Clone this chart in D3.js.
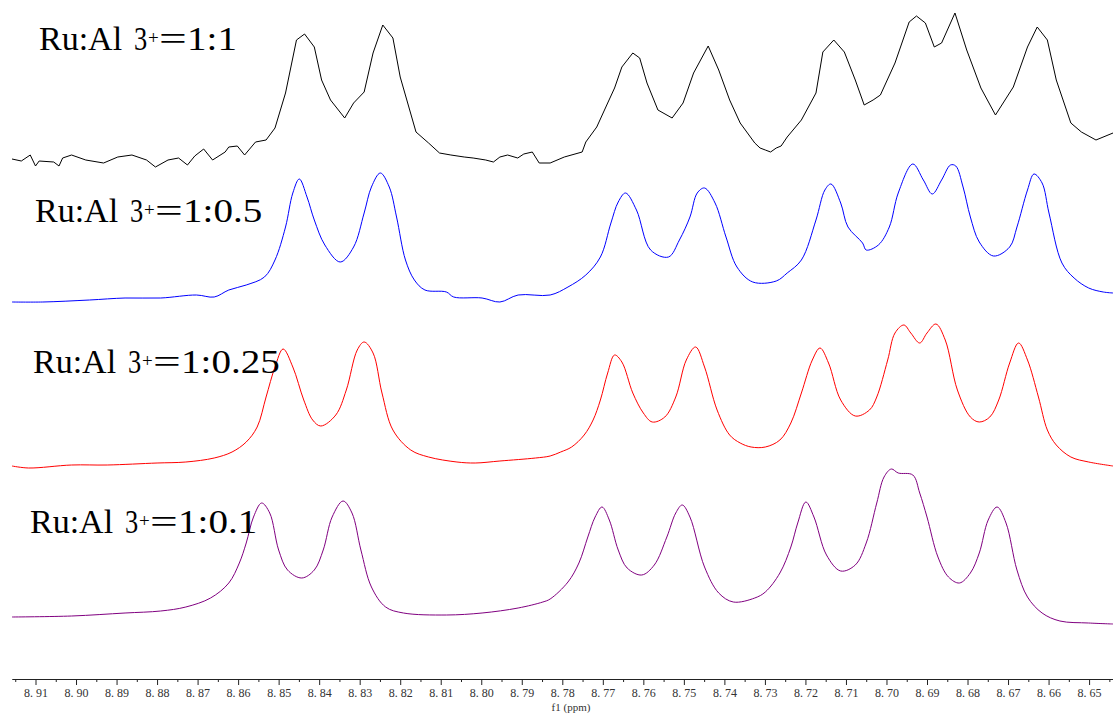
<!DOCTYPE html>
<html lang="en">
<head>
<meta charset="utf-8">
<script src="https://d3js.org/d3.v7.min.js"></script>
<style>
  body { margin: 0; background: #fff; }
  svg { display: block; background: #fff; }
  .axis text { font-family: 'Liberation Serif', serif; font-size: 12px; fill: #333; }
  .axis path, .axis line { stroke: #222; }
  .spec { fill: none; stroke-width: 1; }
  .lbl text { font-family: 'Liberation Serif', 'Times New Roman', serif; fill: #000; }
</style>
</head>
<body>
<svg width="1113" height="715"></svg>
<script>
// ppm range shown (reversed axis, NMR style)
const ppmRange = [8.9158, 8.6441];

const ratios = ["1:1", "1:0.5", "1:0.25", "1:0.1"];
const colors = ["#000000", "#0000ff", "#ff0000", "#800080"];

// [ppm, intensity]
const spec11 = [
  [8.9158,1],[8.9135,-1],[8.9113,5],[8.9100,-6],[8.9091,-1],[8.9055,-2],[8.9042,-6],[8.9033,2],
  [8.9011,5],[8.8976,0],[8.8932,-3],[8.8897,3],[8.8862,5],[8.8826,0],[8.8804,-7],[8.8773,0],
  [8.8747,2],[8.8725,-5],[8.8707,4],[8.8685,11],[8.8663,0],[8.8632,8],[8.8623,13],[8.8602,14],
  [8.8584,5],[8.8557,18],[8.8531,20],[8.8509,32],[8.8483,67],[8.8456,120],
  [8.8436,126],[8.8412,113],[8.8394,80],[8.8372,60],[8.8337,42],[8.8315,57],[8.8289,68],[8.8267,107],
  [8.8243,135],[8.8218,122],[8.8200,83],[8.8161,28],[8.8130,17],[8.8103,7],[8.8075,5],[8.8042,3],
  [8.8020,2],[8.7989,0],[8.7970,-2],[8.7954,3],[8.7935,5],[8.7910,2],[8.7895,6],
  [8.7874,8],[8.7857,-3],[8.7830,-3],[8.7795,3],[8.7751,8],[8.7742,18],[8.7715,33],
  [8.7688,57],[8.7671,72],[8.7653,93],[8.7626,107],[8.7609,102],[8.7591,77],[8.7564,50],[8.7529,42],
  [8.7502,57],[8.7476,87],[8.7440,114],[8.7414,90],[8.7387,60],[8.7361,37],[8.7325,17],[8.7312,12],
  [8.7299,10],[8.7286,8],[8.7272,12],[8.7260,14],[8.7245,23],[8.7210,40],[8.7174,67],[8.7157,108],
  [8.7130,120],[8.7104,108],[8.7077,80],
  [8.7055,55],[8.7033,60],[8.7015,65],[8.6979,97],[8.6944,138],[8.6926,144],[8.6904,137],[8.6882,113],
  [8.6864,117],[8.6831,147],[8.6802,110],[8.6767,72],[8.6731,45],[8.6687,73],[8.6652,113],[8.6628,133],
  [8.6603,120],[8.6581,80],[8.6545,37],[8.6519,28],[8.6483,20],[8.6441,27]
];
const spec05 = [
  [8.9158,-2],[8.9082,-2],[8.8967,0],[8.8879,2],[8.8791,2],[8.8703,5],[8.8659,3],[8.8623,10],
  [8.8580,15],[8.8535,23],[8.8509,40],[8.8483,73],[8.8465,107],[8.8449,121],[8.8430,103],[8.8412,80],
  [8.8386,55],[8.8348,38],[8.8315,53],[8.8289,87],[8.8271,113],[8.8249,127],[8.8227,113],[8.8209,83],
  [8.8187,40],[8.8165,20],[8.8139,10],[8.8086,8],[8.8068,3],[8.7998,2],[8.7954,-2],[8.7909,5],
  [8.7830,5],[8.7786,13],[8.7742,25],[8.7706,43],[8.7680,77],[8.7662,98],[8.7644,107],[8.7617,90],
  [8.7582,50],[8.7538,43],[8.7511,60],[8.7485,83],[8.7467,107],[8.7449,112],[8.7423,97],[8.7396,63],
  [8.7369,33],[8.7330,18],[8.7272,19],[8.7245,27],[8.7210,40],[8.7174,80],[8.7152,110],[8.7137,116],
  [8.7113,97],[8.7095,73],[8.7059,57],[8.7050,50],[8.7020,55],[8.6993,73],[8.6971,107],[8.6935,136],
  [8.6909,120],[8.6887,106],[8.6864,120],[8.6842,135],[8.6829,134],[8.6811,113],[8.6793,83],[8.6771,58],
  [8.6736,44],[8.6696,53],[8.6678,73],[8.6652,110],[8.6636,126],[8.6616,117],[8.6599,87],[8.6567,37],
  [8.6537,22],[8.6501,12],[8.6465,8],[8.6441,7]
];
const spec025 = [
  [8.9158,2],[8.9117,0],[8.9011,3],[8.8923,3],[8.8800,5],[8.8729,6],[8.8659,10],[8.8615,16],
  [8.8580,26],[8.8553,41],[8.8531,71],[8.8509,101],[8.8489,119],[8.8465,101],[8.8438,68],[8.8416,48],
  [8.8396,42],[8.8359,53],[8.8333,78],[8.8306,118],[8.8289,126],[8.8267,115],[8.8245,75],[8.8218,38],
  [8.8174,18],[8.8130,11],[8.8060,6],[8.8015,5],[8.7954,7],[8.7866,10],[8.7830,12],[8.7804,16],
  [8.7777,21],[8.7746,33],[8.7724,48],[8.7706,68],[8.7688,95],[8.7671,113],[8.7653,106],[8.7626,75],
  [8.7600,55],[8.7578,46],[8.7547,51],[8.7520,71],[8.7494,108],[8.7471,121],[8.7449,101],[8.7418,58],
  [8.7387,33],[8.7361,25],[8.7334,21],[8.7299,21],[8.7263,28],[8.7236,45],[8.7210,75],[8.7183,108],
  [8.7164,120],[8.7143,105],[8.7113,68],[8.7077,52],[8.7042,58],[8.7024,71],[8.6997,108],[8.6979,135],
  [8.6957,143],[8.6940,135],[8.6918,125],[8.6900,135],[8.6878,144],[8.6855,128],[8.6825,78],[8.6793,51],
  [8.6771,46],[8.6745,51],[8.6723,68],[8.6696,105],[8.6674,125],[8.6652,108],[8.6625,71],[8.6603,38],
  [8.6581,23],[8.6545,11],[8.6501,6],[8.6441,2]
];
const spec01 = [
  [8.9158,5],[8.9011,6],[8.8879,9],[8.8791,11],[8.8729,15],[8.8668,24],[8.8623,39],[8.8597,59],
  [8.8580,79],[8.8562,105],[8.8542,119],[8.8522,109],[8.8500,72],[8.8478,52],[8.8443,44],[8.8412,52],
  [8.8390,72],[8.8368,105],[8.8341,121],[8.8319,109],[8.8297,72],[8.8271,35],[8.8236,15],[8.8192,9],
  [8.8086,7],[8.7998,9],[8.7909,14],[8.7848,20],[8.7830,23],[8.7786,40],[8.7759,59],[8.7737,85],
  [8.7719,105],[8.7702,115],[8.7684,102],[8.7662,72],[8.7640,54],[8.7604,47],[8.7573,57],[8.7542,85],
  [8.7520,109],[8.7504,117],[8.7485,105],[8.7449,55],[8.7414,29],[8.7378,20],[8.7325,24],[8.7299,30],
  [8.7263,49],[8.7236,75],[8.7219,99],[8.7199,120],[8.7179,105],[8.7148,67],[8.7113,51],[8.7077,57],
  [8.7050,79],[8.7024,119],[8.7006,145],[8.6988,153],[8.6971,149],[8.6935,147],[8.6918,129],[8.6900,105],
  [8.6873,65],[8.6847,45],[8.6820,39],[8.6793,49],[8.6771,69],[8.6749,102],[8.6727,115],[8.6705,99],
  [8.6678,52],[8.6652,25],[8.6616,9],[8.6572,1],[8.6501,-1],[8.6441,-2]
];
const spectra = [spec11, spec05, spec025, spec01];

const svg = d3.select("svg");
const width = 1113, height = 715;

const x = d3.scaleLinear().domain(ppmRange).range([12, width]);
// vertical stacking: each trace sits on its own baseline
const baselines = [160, 300, 468, 622];
// the top trace is noisy, the others are smooth
const curves = [d3.curveLinear, d3.curveCatmullRom.alpha(0.5), d3.curveCatmullRom.alpha(0.5), d3.curveCatmullRom.alpha(0.5)];

spectra.forEach((s, i) => {
  const y = d3.scaleLinear().domain([0, 150]).range([baselines[i], baselines[i] - 150]);
  const line = d3.line().curve(curves[i]).x(d => x(d[0])).y(d => y(d[1]));
  svg.append("path")
    .attr("class", "spec")
    .attr("stroke", colors[i])
    .attr("d", line(s));
});

// labels: "Ru:Al" + 3+ + wide "=" + ratio
const labelPos = [[39, 50], [35, 222], [33, 373], [30, 533]];
ratios.forEach((r, i) => {
  const [lx, ly] = labelPos[i];
  const g = svg.append("g").attr("class", "lbl");
  g.append("text").attr("x", lx).attr("y", ly).style("font-size", "34px").text("Ru:Al");
  g.append("text").attr("transform", `translate(${lx + 95},${ly}) scale(0.8,1)`)
    .style("font-size", "33px").text("3");
  g.append("text").attr("x", lx + 109).attr("y", ly - 6).style("font-size", "19px").text("+");
  g.append("text").attr("transform", `translate(${lx + 120},${ly}) scale(1.45,1)`)
    .style("font-size", "34px").text("=");
  g.append("text").attr("transform", `translate(${lx + 148},${ly}) scale(1.15,1)`)
    .style("font-size", "34px").text(r);
});

// axis
const majors = d3.range(865, 892).map(v => v / 100);
const minors = d3.range(1729, 1784).map(v => v / 200).filter(v => Math.round(v * 1000) % 10 !== 0);
const axisY = 679;

svg.append("g")
  .attr("class", "axis")
  .attr("transform", `translate(0,${axisY})`)
  .call(d3.axisBottom(x).tickValues(minors).tickSize(3).tickSizeOuter(0).tickFormat(""));

svg.append("g")
  .attr("class", "axis")
  .attr("transform", `translate(0,${axisY})`)
  .call(d3.axisBottom(x).tickValues(majors).tickSize(6).tickSizeOuter(0).tickPadding(3)
    .tickFormat(d => d.toFixed(2).replace(".", ". ")))
  .call(g => g.selectAll("text").attr("xml:space", "preserve"));

svg.append("text")
  .attr("x", 571).attr("y", 711)
  .attr("text-anchor", "middle")
  .style("font-family", "'Liberation Serif', serif")
  .style("font-size", "11px")
  .style("fill", "#333")
  .attr("xml:space", "preserve")
  .text("f1 (ppm)");
</script>
</body>
</html>
